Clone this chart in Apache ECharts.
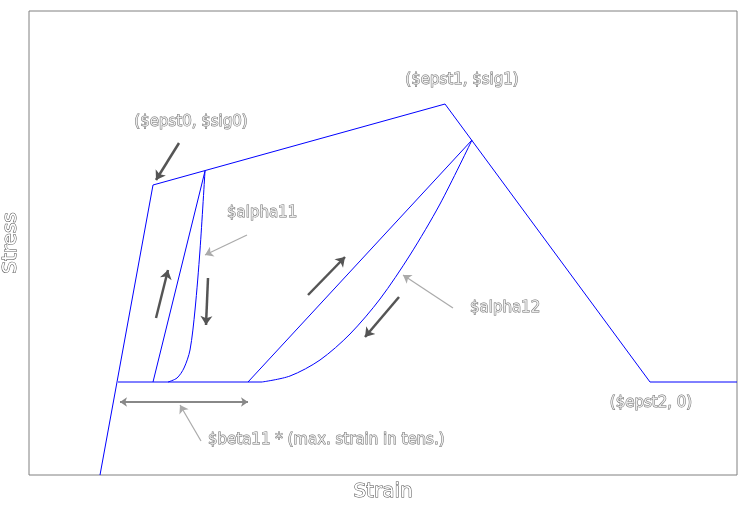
<!DOCTYPE html>
<html><head><meta charset="utf-8">
<script src="https://cdn.jsdelivr.net/npm/echarts@6/dist/echarts.min.js"></script>
<style>html,body{margin:0;padding:0;background:#fff}#c{width:751px;height:506px}</style>
</head><body><div id="c"></div>
<script>
// Envelope (strain, stress)
const envelope = [[-0.18,-0.93],[0.35,1.97],[3.27,2.78],[5.32,0],[6.19,0]];
const baseline = [[0,0],[1.44,0]];
const reload1 = [[0.35,0],[0.87,2.11]];
const unload1 = [[0.87,2.11],[0.82,1.32],[0.77,0.72],[0.72,0.32],[0.66,0.14],[0.59,0.04],[0.50,0]];
const reload2 = [[1.30,0],[3.54,2.42]];
const unload2 = [[3.54,2.42],[3.22,1.78],[2.92,1.27],[2.62,0.83],[2.32,0.48],[2.02,0.22],[1.72,0.06],[1.44,0]];
// Annotation text
const labelNames = ['($epst0, $sig0)','($epst1, $sig1)','$alpha11','$alpha12','$beta11 * (max. strain in tens.)','($epst2, 0)'];
const labelPos = [[0.73,2.60],[3.44,3.02],[1.09,1.69],[3.52,0.74],[0.90,-0.58],[5.33,-0.21]];
const labelAlign = ['center','center','left','left','left','center'];
// Arrows
const arrowsMain = [
  [[0.38,0.64],[0.50,1.12]],
  [[0.90,1.04],[0.88,0.57]],
  [[1.90,0.87],[2.27,1.25]],
  [[2.81,0.85],[2.47,0.45]],
  [[0.61,2.39],[0.38,2.02]]
];
const arrowsPointer = [
  [[1.29,1.47],[0.87,1.27]],
  [[3.35,0.74],[2.85,1.07]],
  [[0.83,-0.59],[0.62,-0.23]]
];
const doubleArrow = [[0.02,-0.20],[1.30,-0.20]];
const xRange = [-0.89, 6.19];
const yRange = [-0.93, 3.71];

const hollow = {color:'#fff', textBorderColor:'#4a4a4a', textBorderWidth:1, fontFamily:'DejaVu Sans, sans-serif'};
const blue = {color:'#0000ff', width:1};
function lineSeries(d, s){return {type:'line', data:d, symbol:'none', lineStyle:blue, silent:true, animation:false, smooth:s||false};}

const chart = echarts.init(document.getElementById('c'));
chart.setOption({
  animation:false,
  grid:{left:29, right:14, top:11, bottom:31, show:true, borderColor:'#808080', borderWidth:1, outerBoundsMode:'none', containLabel:false},
  xAxis:{type:'value', min:xRange[0], max:xRange[1], axisLine:{show:false}, axisTick:{show:false}, axisLabel:{show:false}, splitLine:{show:false},
    name:'Strain', nameLocation:'middle', nameGap:7, nameTextStyle:Object.assign({fontSize:20}, hollow)},
  yAxis:{type:'value', min:yRange[0], max:yRange[1], axisLine:{show:false}, axisTick:{show:false}, axisLabel:{show:false}, splitLine:{show:false},
    name:'Stress', nameLocation:'middle', nameGap:8, nameTextStyle:Object.assign({fontSize:20}, hollow)},
  series:[
    lineSeries(envelope), lineSeries(baseline), lineSeries(reload1), lineSeries(unload1, 0.3), lineSeries(reload2), lineSeries(unload2, 0.3),
    {type:'lines', coordinateSystem:'cartesian2d', silent:true, symbol:['none','arrow'], symbolSize:9,
      lineStyle:{color:'#555', width:2.5, opacity:1}, data:arrowsMain.map(c=>({coords:c}))},
    {type:'lines', coordinateSystem:'cartesian2d', silent:true, symbol:['none','arrow'], symbolSize:8,
      lineStyle:{color:'#aaa', width:1.2, opacity:1}, data:arrowsPointer.map(c=>({coords:c}))},
    {type:'lines', coordinateSystem:'cartesian2d', silent:true, symbol:['arrow','arrow'], symbolSize:7,
      lineStyle:{color:'#888', width:2, opacity:1}, data:[{coords:doubleArrow}]},
    {type:'scatter', symbolSize:0, silent:true,
      data:labelNames.map((n,i)=>({name:n, value:labelPos[i], label:{show:true, position:'inside', formatter:n, align:labelAlign[i], verticalAlign:'middle', fontSize:15, ...hollow}}))}
  ]
});
</script></body></html>
